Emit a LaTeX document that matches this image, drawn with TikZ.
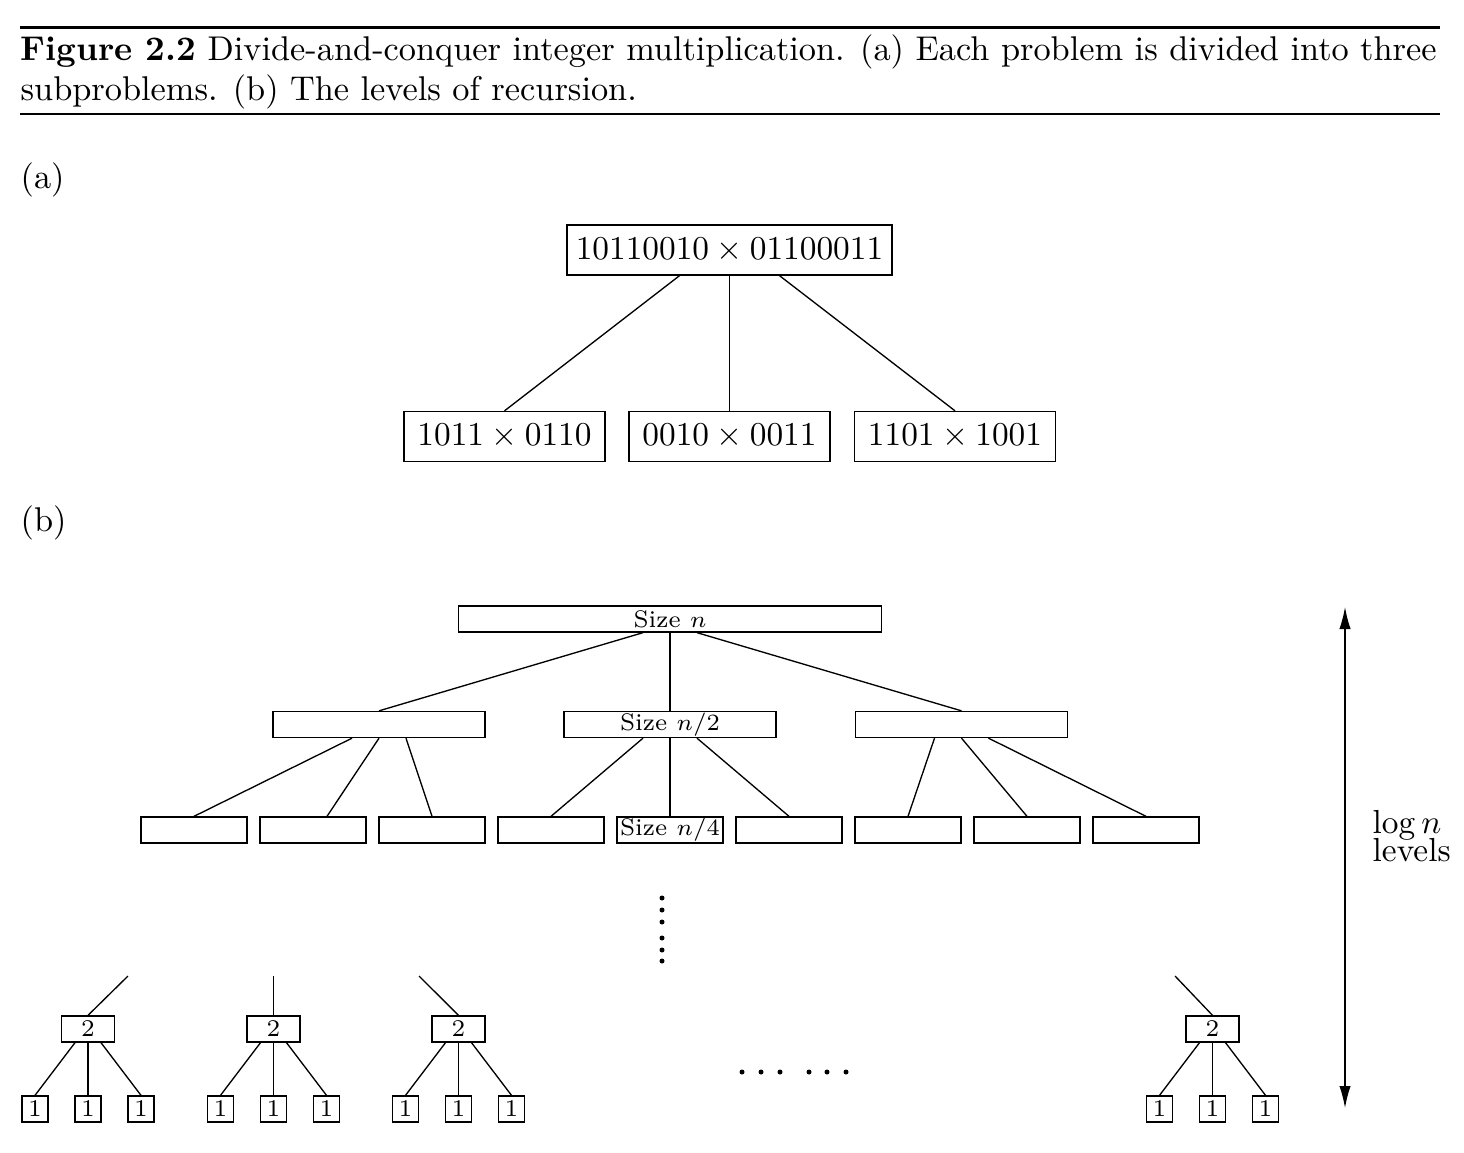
\documentclass[tikz,border=0pt]{standalone}
\usepackage{amsmath,amssymb}
\usepackage{tikz}
\usetikzlibrary{arrows.meta}

\begin{document}
\begin{tikzpicture}[x=0.3pt,y=-0.3pt]
	\tikzset{every node/.style={inner sep=0pt}}
	\tikzset{capfont/.style={font=\fontsize{10.3}{12}\selectfont}}
	\tikzset{mulbox/.style={draw,minimum height=15pt}}
	\tikzset{sizebox/.style={draw,minimum height=7.8pt,font=\fontsize{7.2}{9}\selectfont}}
	\tikzset{unitbox/.style={sizebox,minimum width=7.8pt}}
	\useasboundingbox (0,0) rectangle (1464,1152);
	% caption
	\draw[line width=0.9pt] (20,28) -- (1440,28);
	\node[capfont,anchor=base west] (capone) at (20,61) {\makebox[424.8pt][s]{\textbf{Figure 2.2} Divide-and-conquer integer multiplication. (a) Each problem is divided into three}};
	\node[capfont,anchor=base west] (captwo) at (20,101) {subproblems. (b) The levels of recursion.};
	\draw[line width=0.6pt] (20,114) -- (1440,114);
	% (a)
	\node[capfont,anchor=base west] (parta) at (20,189) {(a)};
	\node[mulbox,minimum width=97.5pt] (whole) at (729.5,250) {$10110010\times01100011$};
	\node[mulbox,minimum width=60.3pt] (lpart) at (504.5,436.5) {$1011\times0110$};
	\node[mulbox,minimum width=60.3pt] (mpart) at (729.5,436.5) {$0010\times0011$};
	\node[mulbox,minimum width=60.3pt] (rpart) at (955,436.5) {$1101\times1001$};
	\draw ([xshift=-15pt]whole.south) -- (lpart.north);
	\draw (whole.south) -- (mpart.north);
	\draw ([xshift=15pt]whole.south) -- (rpart.north);
	% (b)
	\node[capfont,anchor=base west] (partb) at (20,531) {(b)};
	\node[sizebox,minimum width=126.9pt] (root) at (670,619) {Size $n$};
	\node[sizebox,minimum width=63.6pt] (halfa) at (379,724.5) {};
	\node[sizebox,minimum width=63.6pt] (halfb) at (670,724.5) {Size $n/2$};
	\node[sizebox,minimum width=63.6pt] (halfc) at (961.5,724.5) {};
	\draw ([xshift=-8.1pt]root.south) -- (halfa.north);
	\draw (root.south) -- (halfb.north);
	\draw ([xshift=8.1pt]root.south) -- (halfc.north);
	\foreach \i in {1,...,9}
		\node[sizebox,minimum width=31.8pt] (qtr\i) at ({194+119*(\i-1)},830) {\ifnum\i=5 Size $n/4$\fi};
	\foreach \p/\a/\b/\c/\s in {halfa/1/2/3/4.2pt,halfb/4/5/6/0pt,halfc/7/8/9/0pt} {
		\draw ([xshift=-8.1pt]\p.south) -- (qtr\a.north);
		\draw (\p.south) -- ([xshift=\s]qtr\b.north);
		\draw ([xshift=8.1pt]\p.south) -- (qtr\c.north);
	}
	\foreach \y in {898,910,922,938,950,961}
		\fill (662,\y) circle (0.75pt);
	\foreach \x in {742,761,780,809,827,846}
		\fill (\x,1072) circle (0.75pt);
	% bottom level
	\foreach \g/\x/\t in {1/88/128,2/273.5/273.5,3/458.5/419,4/1212.5/1175} {
		\node[sizebox,minimum width=15.9pt] (two\g) at (\x,1029) {2};
		\coordinate (up\g) at (\t,976);
		\draw (up\g) -- (two\g.north);
		\node[unitbox] (one\g-l) at ({\x-53},1109) {1};
		\node[unitbox] (one\g-m) at (\x,1109) {1};
		\node[unitbox] (one\g-r) at ({\x+53},1109) {1};
		\draw ([xshift=-3.9pt]two\g.south) -- (one\g-l.north);
		\draw (two\g.south) -- (one\g-m.north);
		\draw ([xshift=3.9pt]two\g.south) -- (one\g-r.north);
	}
	% levels
	\coordinate (logtop) at (1345,607);
	\coordinate (logbot) at (1345,1108);
	\draw[{Latex[length=6.6pt,width=3.4pt]}-{Latex[length=6.6pt,width=3.4pt]}] (logtop) -- (logbot);
	\node[anchor=west,align=left,font=\fontsize{10}{12}\selectfont] (levels) at (1372,836) {$\log n$\\[-3.5pt]levels};
\end{tikzpicture}
\end{document}
